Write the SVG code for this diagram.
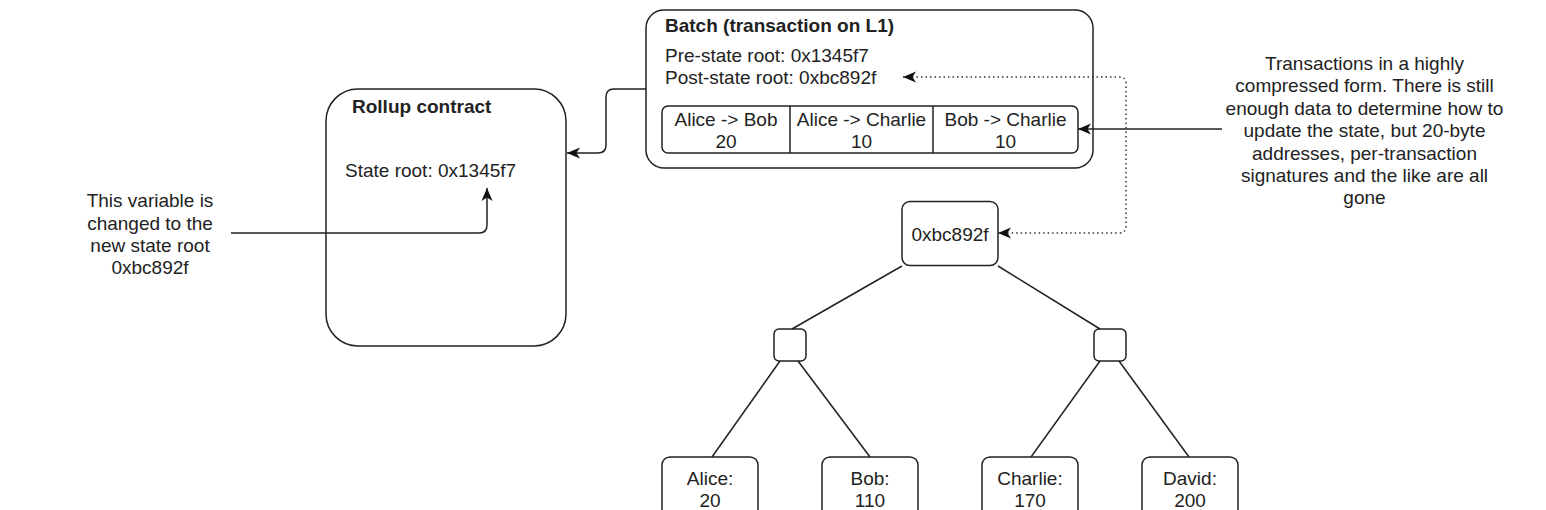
<svg xmlns="http://www.w3.org/2000/svg" width="1546" height="510" viewBox="0 0 1546 510">
<style>
.box{fill:#fff;stroke:#222;stroke-width:1.5}
.ln{fill:none;stroke:#222;stroke-width:1.5}
.dot{fill:none;stroke:#333;stroke-width:1.5;stroke-dasharray:1.5 3}
text{font-family:"Liberation Sans",Arial,sans-serif;font-size:19px;fill:#222}
.b{font-weight:bold}
.c{text-anchor:middle}
</style>
<defs>
<marker id="arr" markerUnits="userSpaceOnUse" markerWidth="14" markerHeight="12" refX="13" refY="6" orient="auto-start-reverse">
<path d="M0,0.5 L13,6 L0,11.5 L3.5,6 Z" fill="#111"/>
</marker>
</defs>
<rect width="1546" height="510" fill="#fff"/>

<g id="batch">
<rect class="box" x="646" y="10" width="447" height="158" rx="18"/>
<text class="b" x="665" y="32" font-size="18.2">Batch (transaction on L1)</text>
<text x="665" y="62">Pre-state root: 0x1345f7</text>
<text x="665" y="84">Post-state root: 0xbc892f</text>
</g>

<g id="transactions">
<rect class="box" x="662" y="106" width="416" height="47" rx="6"/>
<line class="ln" x1="790" y1="106" x2="790" y2="153"/>
<line class="ln" x1="933" y1="106" x2="933" y2="153"/>
<text class="c" x="726" y="126">Alice -&gt; Bob</text>
<text class="c" x="726" y="148">20</text>
<text class="c" x="861.5" y="126">Alice -&gt; Charlie</text>
<text class="c" x="861.5" y="148">10</text>
<text class="c" x="1005.5" y="126">Bob -&gt; Charlie</text>
<text class="c" x="1005.5" y="148">10</text>
</g>

<g id="rollup">
<rect class="box" x="326" y="89" width="240" height="257" rx="32"/>
<text class="b" x="352" y="113">Rollup contract</text>
<text x="345" y="177">State root: 0x1345f7</text>
</g>

<g id="note-left">
<text class="c" x="150" y="207">This variable is</text>
<text class="c" x="150" y="230">changed to the</text>
<text class="c" x="150" y="252">new state root</text>
<text class="c" x="150" y="274">0xbc892f</text>
</g>

<g id="note-right">
<text class="c" x="1364.5" y="70">Transactions in a highly</text>
<text class="c" x="1364.5" y="92">compressed form. There is still</text>
<text class="c" x="1364.5" y="115">enough data to determine how to</text>
<text class="c" x="1364.5" y="137">update the state, but 20-byte</text>
<text class="c" x="1364.5" y="160">addresses, per-transaction</text>
<text class="c" x="1364.5" y="182">signatures and the like are all</text>
<text class="c" x="1364.5" y="204">gone</text>
</g>

<g id="root">
<rect class="box" x="902" y="201.5" width="96" height="64" rx="8"/>
<text class="c" x="950" y="241">0xbc892f</text>
</g>
<g id="mid-left"><rect class="box" x="774" y="329" width="32" height="32" rx="5"/></g>
<g id="mid-right"><rect class="box" x="1094" y="329" width="32" height="32" rx="5"/></g>
<g id="leaf-alice">
<rect class="box" x="662" y="457" width="96" height="64" rx="8"/>
<text class="c" x="710" y="485">Alice:</text>
<text class="c" x="710" y="507">20</text>
</g>
<g id="leaf-bob">
<rect class="box" x="822" y="457" width="96" height="64" rx="8"/>
<text class="c" x="870" y="485">Bob:</text>
<text class="c" x="870" y="507">110</text>
</g>
<g id="leaf-charlie">
<rect class="box" x="982" y="457" width="96" height="64" rx="8"/>
<text class="c" x="1030" y="485">Charlie:</text>
<text class="c" x="1030" y="507">170</text>
</g>
<g id="leaf-david">
<rect class="box" x="1142" y="457" width="96" height="64" rx="8"/>
<text class="c" x="1190" y="485">David:</text>
<text class="c" x="1190" y="507">200</text>
</g>

<g id="connectors">
<path class="ln" d="M646,89 H614 Q606,89 606,97 V145 Q606,153 598,153 H567" marker-end="url(#arr)"/>
<path class="ln" d="M231,233 H479 Q487,233 487,225 V188" marker-end="url(#arr)"/>
<path class="ln" d="M1222,129 H1078" marker-end="url(#arr)"/>
<path class="dot" d="M903,77 H1119 Q1126,77 1126,84 V226 Q1126,233 1119,233 H998" marker-start="url(#arr)" marker-end="url(#arr)"/>
<path class="ln" d="M902,266 L792,329"/>
<path class="ln" d="M998,266 L1100,329"/>
<path class="ln" d="M780,361 L712,457"/>
<path class="ln" d="M798,361 L870,457"/>
<path class="ln" d="M1100,361 L1031,457"/>
<path class="ln" d="M1119,361 L1189,457"/>
</g>
</svg>
